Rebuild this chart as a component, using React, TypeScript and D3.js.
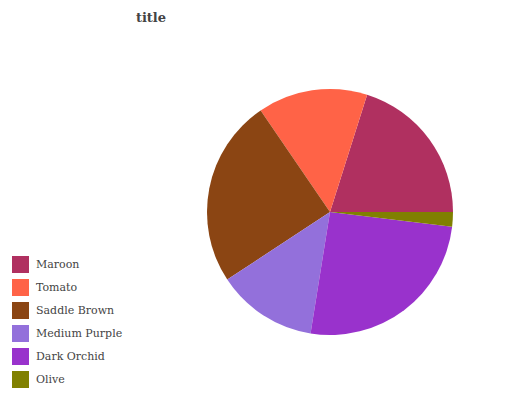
import { useEffect, useRef } from 'react'
import * as d3 from 'd3'

const categories = ['Maroon', 'Tomato', 'Saddle Brown', 'Medium Purple', 'Dark Orchid', 'Olive']
const values = [20.1, 14.4, 24.7, 13.2, 25.6, 1.9]
const colors = ['#B03060', '#FF6347', '#8B4513', '#9370DB', '#9932CC', '#808000']

export default function App() {
  const svgRef = useRef<SVGSVGElement>(null)

  useEffect(() => {
    if (!svgRef.current) return
    const svg = d3.select(svgRef.current)
    svg.selectAll('*').remove()

    const width = 532
    const height = 400
    const cx = 330
    const cy = 212
    const radius = 123

    svg.attr('width', width).attr('height', height)

    svg.append('rect').attr('width', width).attr('height', height).attr('fill', '#fff')

    svg.append('text')
      .attr('x', 151)
      .attr('y', 22)
      .attr('text-anchor', 'middle')
      .style('font-family', 'DejaVu Serif')
      .style('font-size', '13px')
      .style('font-weight', 'bold')
      .style('fill', '#444')
      .text('title')

    const data = categories.map((c, i) => ({ name: c, value: values[i], color: colors[i] }))

    // counterclockwise from 3 o'clock
    const pie = d3.pie<{ name: string; value: number; color: string }>()
      .sort(null)
      .value(d => d.value)
      .startAngle(Math.PI / 2)
      .endAngle(Math.PI / 2 - 2 * Math.PI)

    const arc = d3.arc<d3.PieArcDatum<{ name: string; value: number; color: string }>>()
      .innerRadius(0)
      .outerRadius(radius)

    const g = svg.append('g').attr('transform', `translate(${cx},${cy})`)
    g.selectAll('path')
      .data(pie(data))
      .enter()
      .append('path')
      .attr('d', arc)
      .attr('fill', d => d.data.color)

    // legend
    const legend = svg.append('g').attr('transform', 'translate(12,256)')
    const item = legend.selectAll('g')
      .data(data)
      .enter()
      .append('g')
      .attr('transform', (d, i) => `translate(0,${i * 23})`)

    item.append('rect')
      .attr('width', 17)
      .attr('height', 17)
      .attr('fill', d => d.color)

    item.append('text')
      .attr('x', 24)
      .attr('y', 8.5)
      .attr('dy', '0.35em')
      .style('font-family', 'DejaVu Serif')
      .style('font-size', '11px')
      .style('fill', '#444')
      .text(d => d.name)
  }, [])

  return <svg ref={svgRef} style={{ position: 'absolute', left: 0, top: 0 }} />
}
